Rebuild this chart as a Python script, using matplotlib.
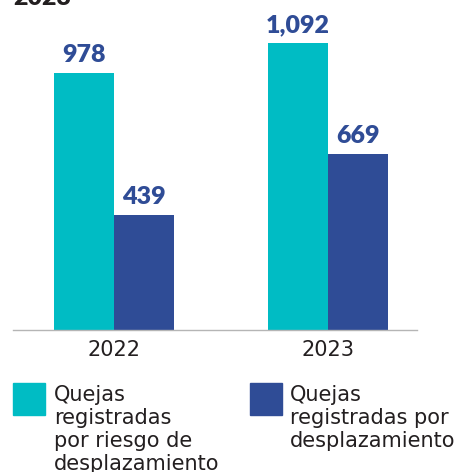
import matplotlib.pyplot as plt
import numpy as np

plt.rcParams['font.family'] = ['DejaVu Sans']

# datos
years = ['2022', '2023']
riesgo = [978, 1092]
desplazamiento = [439, 669]
value_labels_riesgo = ['978', '1,092']
value_labels_despl = ['439', '669']
legend_labels = ['Quejas\nregistradas\npor riesgo de\ndesplazamiento',
                 'Quejas\nregistradas por\ndesplazamiento']

teal = '#00BCC4'
navy = '#2F4C96'
dark = '#231F20'

W, H = 461, 472
fig = plt.figure(figsize=(W / 100, H / 100), dpi=100)

# ejes colocados en pixeles
ax = fig.add_axes([13 / W, (H - 330) / H, 404 / W, 330 / H])
x = np.arange(len(years))
bw = 0.28
b1 = ax.bar(x - bw / 2, riesgo, bw, color=teal)
b2 = ax.bar(x + bw / 2, desplazamiento, bw, color=navy)

ax.set_xlim(-0.472, 1.416)
ax.set_ylim(0, 330 / 0.2628)

for bars, labs in ((b1, value_labels_riesgo), (b2, value_labels_despl)):
    for b, lab in zip(bars, labs):
        ax.annotate(lab, (b.get_x() + b.get_width() / 2, b.get_height()),
                    xytext=(0, 5), textcoords='offset points',
                    ha='center', va='bottom', fontsize=18,
                    fontweight='heavy', color=navy, family=['Lato'])

for s in ['top', 'right', 'left']:
    ax.spines[s].set_visible(False)
ax.spines['bottom'].set_color('#B5B5B5')
ax.spines['bottom'].set_linewidth(1)
ax.set_yticks([])
ax.set_xticks(x)
ax.set_xticklabels(years, fontsize=15, color=dark)
ax.tick_params(axis='x', length=0, pad=7)

# titulo cortado arriba
fig.text(13 / W, 1 - 5 / H, '2023', fontsize=18, fontweight='heavy',
         color=dark, ha='left', va='baseline', family=['Lato'])

# leyenda manual
for sx, tx, col, lab in ((13, 54, teal, legend_labels[0]),
                         (250, 290, navy, legend_labels[1])):
    fig.patches.append(plt.Rectangle((sx / W, 1 - 415 / H), 32 / W, 32 / H,
                                     transform=fig.transFigure, color=col))
    fig.text(tx / W, 1 - 385 / H, lab, fontsize=15, color=dark,
             ha='left', va='top', linespacing=1.18)

fig.savefig('out.png', dpi=100)
